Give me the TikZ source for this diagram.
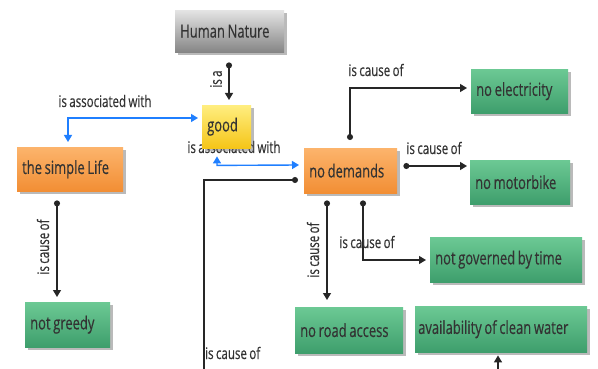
\documentclass[tikz,border=0pt]{standalone}
\usepackage{fontspec}
\setmainfont[FakeStretch=0.72,WordSpace=0.8,FakeBold=0.4]{Open Sans}
\usetikzlibrary{arrows.meta,shadows,calc}
\definecolor{gtop}{HTML}{6CC994}
\definecolor{gbot}{HTML}{3E9E6C}
\definecolor{otop}{HTML}{FCB46C}
\definecolor{obot}{HTML}{F28E34}
\definecolor{ytop}{HTML}{FFEE80}
\definecolor{ybot}{HTML}{F5C518}
\definecolor{htop}{HTML}{E4E4E4}
\definecolor{hbot}{HTML}{858585}
\definecolor{txt}{HTML}{333333}
\definecolor{assoc}{HTML}{1F7FFF}
\begin{document}
\begin{tikzpicture}[x=1pt,y=-1pt,
  box/.style={anchor=north west, inner sep=0pt, text=txt,
    font=\fontsize{18}{20}\selectfont,
    drop shadow={shadow xshift=2.5pt,shadow yshift=-2.5pt,opacity=0.45,fill=black!60}},
  gbox/.style={box, top color=gtop, bottom color=gbot},
  obox/.style={box, top color=otop, bottom color=obot},
  ybox/.style={box, top color=ytop, bottom color=ybot},
  hbox/.style={box, top color=htop, bottom color=hbot},
  lbl/.style={text=txt, font=\fontsize{16}{18}\selectfont, inner sep=0pt},
  conn/.style={draw=black!85, line width=1.4pt,
    {Circle[length=6pt]}-{Triangle[length=7pt,width=8pt]}},
  aconn/.style={draw=assoc, line width=1.4pt,
    {Triangle[length=7pt,width=8pt]}-{Triangle[length=7pt,width=8pt]}}
]
\useasboundingbox (0,0) rectangle (598,369);
\fill[white] (0,0) rectangle (598,369);

% label partly hidden under "good"
\node[lbl] (lassoc2) at (234,147) {is associated with};

\node[hbox, minimum width=109pt, minimum height=42pt] (hn) at (175,10) {\makebox[99pt][l]{Human Nature}};
\node[ybox, minimum width=49pt, minimum height=43pt] (good) at (202,105) {\makebox[39pt][l]{good}};
\node[obox, minimum width=106pt, minimum height=44pt] (sl) at (17,147) {\makebox[96pt][l]{the simple Life}};
\node[obox, minimum width=93pt, minimum height=45pt] (nd) at (304,148) {\makebox[83pt][l]{no demands}};
\node[gbox, minimum width=97pt, minimum height=44pt] (ne) at (471,69) {\makebox[87pt][l]{no electricity}};
\node[gbox, minimum width=100pt, minimum height=44pt] (nm) at (470,160) {\makebox[90pt][l]{no motorbike}};
\node[gbox, minimum width=152pt, minimum height=45pt] (ng) at (430,237) {\makebox[142pt][l]{not governed by time}};
\node[gbox, minimum width=108pt, minimum height=46pt] (nra) at (295,307) {\makebox[98pt][l]{no road access}};
\node[gbox, minimum width=172pt, minimum height=46pt] (acw) at (415,306) {\makebox[166pt][l]{availability of clean water}};
\node[gbox, minimum width=85pt, minimum height=45pt] (ngr) at (25,302) {\makebox[75pt][l]{not greedy}};

% free ends
\coordinate (off1) at (204,372);
\coordinate (off2) at (498,372);

% Human Nature -> good
\draw[conn] ($(hn.south west)+(54,10)$) -- ($(good.north west)+(27,-5)$);
\node[lbl, rotate=90] (lisa) at (216,79) {is a};

% good <-> simple life
\draw[aconn] ($(sl.north west)+(51,-5)$) |- ($(good.north west)+(-4,13)$);
\node[lbl] (lassoc1) at (105,101) {is associated with};

% good <-> no demands
\draw[aconn] ($(good.south west)+(15,8)$) |- ($(good.south west)+(15,17)$) -- ($(nd.north west)+(-5,17)$);

% no demands -> off-page
\draw[draw=black!85, line width=1.4pt, {Circle[length=6pt]}-] ($(nd.north west)+(-6,32)$) -| (off1);
\node[lbl, anchor=west] (lcause0) at (205,353) {is cause of};

% no demands -> no electricity
\draw[conn] ($(nd.north west)+(46,-8)$) |- ($(ne.north west)+(-4,19)$);
\node[lbl] (lcause1) at (376,70) {is cause of};

% no demands -> no motorbike
\draw[conn] ($(nd.north east)+(6,18)$) -- ($(nm.north west)+(-3,6)$);
\node[lbl] (lcause2) at (434,148) {is cause of};

% no demands -> no road access
\draw[conn] ($(nd.south west)+(23,7)$) -- ($(nra.north west)+(32,-7)$);
\node[lbl, rotate=90] (lcause3) at (313,250) {is cause of};

% no demands -> not governed by time
\draw[conn] ($(nd.south west)+(59,7)$) |- ($(ng.north west)+(-4,23)$);
\node[lbl] (lcause4) at (367,242) {is cause of};

% off-page -> availability of clean water
\draw[draw=black!85, line width=1.4pt, -{Triangle[length=7pt,width=8pt]}] (off2) -- ($(acw.south west)+(83,3)$);

% simple life -> not greedy
\draw[conn] ($(sl.south west)+(40,9)$) -- ($(ngr.north west)+(32,-5)$);
\node[lbl, rotate=90] (lcause5) at (43,247) {is cause of};
\end{tikzpicture}
\end{document}
